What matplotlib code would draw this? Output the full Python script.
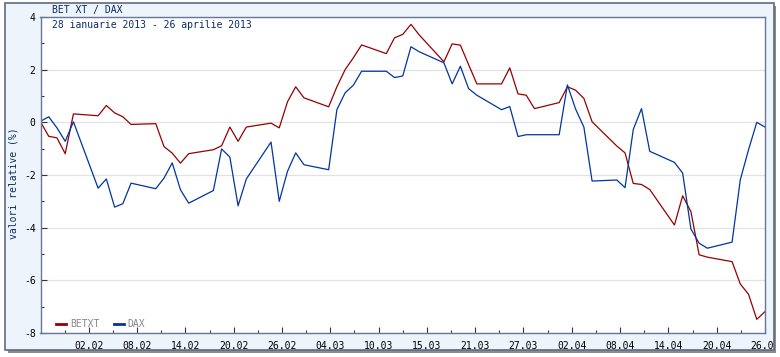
import numpy as np
import pandas as pd
import matplotlib
matplotlib.use('Agg')
import matplotlib.pyplot as plt
import matplotlib.dates as mdates
from matplotlib.patches import Rectangle
from matplotlib.transforms import Bbox, TransformedBbox

plt.rcParams['font.family'] = ['DejaVu Sans Mono']
plt.rcParams['axes.unicode_minus'] = False

# zile de tranzactionare (zz.ll, 2013)
zile = ['28.01', '29.01', '30.01', '31.01', '01.02',
        '04.02', '05.02', '06.02', '07.02', '08.02',
        '11.02', '12.02', '13.02', '14.02', '15.02',
        '18.02', '19.02', '20.02', '21.02', '22.02',
        '25.02', '26.02', '27.02', '28.02', '01.03',
        '04.03', '05.03', '06.03', '07.03', '08.03',
        '11.03', '12.03', '13.03', '14.03', '15.03',
        '18.03', '19.03', '20.03', '21.03', '22.03',
        '25.03', '26.03', '27.03', '28.03', '29.03',
        '01.04', '02.04', '03.04', '04.04', '05.04',
        '08.04', '09.04', '10.04', '11.04', '12.04',
        '15.04', '16.04', '17.04', '18.04', '19.04',
        '22.04', '23.04', '24.04', '25.04', '26.04']

betxt = [0.02, -0.53, -0.59, -1.19, 0.32,
         0.25, 0.64, 0.36, 0.21, -0.08,
         -0.05, -0.92, -1.17, -1.55, -1.19,
         -1.04, -0.89, -0.18, -0.72, -0.18,
         -0.03, -0.21, 0.78, 1.35, 0.93,
         0.59, 1.35, 2.00, 2.45, 2.94,
         2.61, 3.21, 3.34, 3.72, 3.32,
         2.30, 2.98, 2.93, 2.19, 1.46,
         1.46, 2.07, 1.08, 1.03, 0.52,
         0.75, 1.35, 1.22, 0.91, 0.02,
         -0.90, -1.16, -2.32, -2.36, -2.55,
         -3.90, -2.79, -3.39, -5.03, -5.12,
         -5.29, -6.14, -6.53, -7.48, -7.19]

dax = [0.04, 0.21, -0.21, -0.72, 0.02,
       -2.50, -2.15, -3.22, -3.09, -2.31,
       -2.52, -2.12, -1.54, -2.56, -3.07,
       -2.59, -1.01, -1.32, -3.17, -2.15,
       -0.75, -3.00, -1.86, -1.16, -1.61,
       -1.80, 0.48, 1.12, 1.41, 1.94,
       1.94, 1.70, 1.76, 2.87, 2.68,
       2.26, 1.46, 2.13, 1.28, 1.03,
       0.48, 0.60, -0.54, -0.47, -0.47,
       -0.47, 1.42, 0.50, -0.18, -2.23,
       -2.19, -2.48, -0.27, 0.52, -1.10,
       -1.52, -1.93, -4.05, -4.59, -4.78,
       -4.55, -2.18, -1.04, 0.00, -0.18]

t = pd.to_datetime([z + '.2013' for z in zile], format='%d.%m.%Y')

navy = '#0a2a66'
spine_col = '#66779a'

fig = plt.figure(figsize=(7.8, 3.57), dpi=100)
fig.patch.set_facecolor('white')

# panoul de fundal cu umbra
W, H = 780.0, 357.0
fig.patches.append(Rectangle((8 / W, 4 / H), 768 / W, 347 / H, transform=fig.transFigure,
                             facecolor='#8c8c8c', edgecolor='none', zorder=-2))
fig.patches.append(Rectangle((5 / W, 7 / H), 769 / W, 347 / H, transform=fig.transFigure,
                             facecolor='#eef4fc', edgecolor='#5f6b80', linewidth=1.2, zorder=-1))

ax = fig.add_axes([40.5 / W, 24 / H, 724.5 / W, 316 / H])
ax.set_zorder(1)
ax.set_facecolor('white')

ax.plot(t, betxt, color='#960000', lw=0.9, label='BETXT')
ax.plot(t, dax, color='#0035a0', lw=0.9, label='DAX')

# axa x
t0 = t[0]
t1 = t[-1]
ax.set_xlim(t0, t1)
pas = (t1 - t0) / 15
ax.set_xticks([t0 + k * pas for k in range(1, 16)])
ax.set_xticks([t0 + (k + 0.5) * pas for k in range(0, 15)], minor=True)
ax.xaxis.set_major_formatter(mdates.DateFormatter('%d.%m'))

# axa y
ax.set_ylim(-8, 4)
ax.set_yticks(np.arange(-8, 5, 2))
ax.set_yticks(np.arange(-7, 4, 2), minor=True)
ax.yaxis.grid(True, which='major', color='#e2e2e2', lw=0.9)
ax.set_axisbelow(True)

ax.tick_params(which='both', direction='in', colors='#333333', labelcolor='black',
               labelsize=7)
ax.tick_params(which='major', length=4, width=0.8)
ax.tick_params(which='minor', length=2, width=0.8)
ax.tick_params(axis='x', pad=6)
for s in ax.spines.values():
    s.set_color(spine_col)
    s.set_linewidth(1.0)

# ultima eticheta e taiata de marginea panoului
clip = TransformedBbox(Bbox([[0, 0], [773 / W, 1]]), fig.transFigure)
for lbl in ax.get_xticklabels():
    lbl.set_clip_box(clip)
    lbl.set_clip_on(True)

fig.text(52 / W, 1 - 10 / H, 'BET XT / DAX', color=navy, fontsize=7, va='center')
fig.text(52 / W, 1 - 25 / H, '28 ianuarie 2013 - 26 aprilie 2013', color=navy,
         fontsize=7, va='center', zorder=3)
fig.text(14 / W, 1 - 183 / H, 'valori relative (%)', color=navy, fontsize=7,
         rotation=90, va='center', ha='center')

leg = ax.legend(loc='lower left', bbox_to_anchor=(0.01, -0.015), ncol=2, frameon=False,
                fontsize=7, handlelength=1.0, handletextpad=0.4, columnspacing=1.5,
                labelcolor='#888888')
for h in leg.get_lines():
    h.set_linewidth(2.0)

fig.savefig('out.png', dpi=100)
